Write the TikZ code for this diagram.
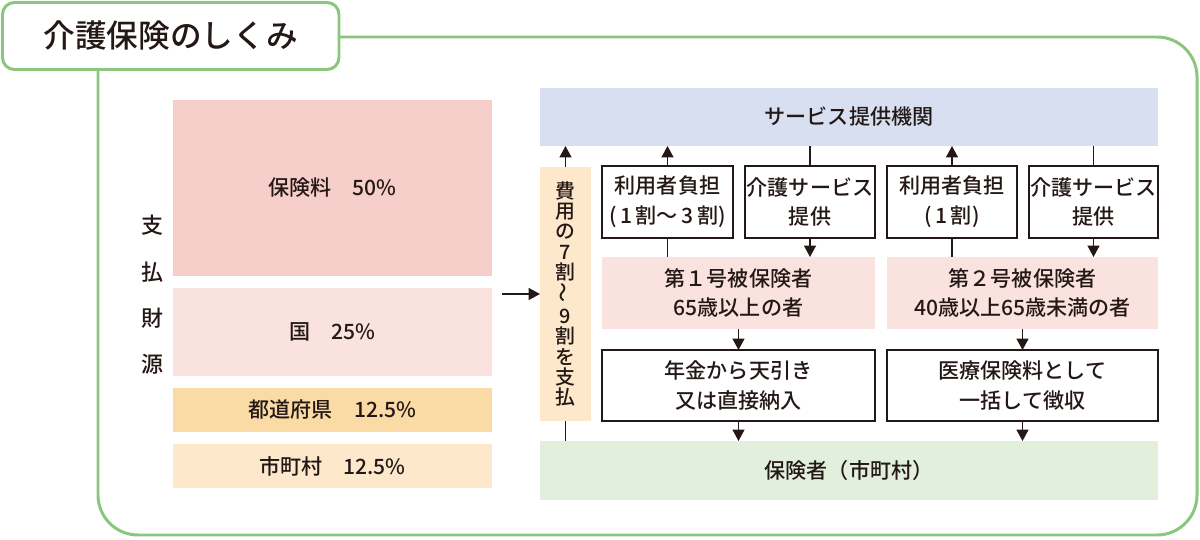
\documentclass[tikz,border=0pt]{standalone}
\usepackage{fontspec}
\setmainfont{Noto Sans CJK JP Medium}
\usetikzlibrary{arrows.meta}
\definecolor{frameg}{HTML}{8AC67E}
\definecolor{ink}{HTML}{231815}
\definecolor{pinkA}{HTML}{F6CFCA}
\definecolor{pinkB}{HTML}{FAE2DE}
\definecolor{orangeA}{HTML}{FADAA5}
\definecolor{creamA}{HTML}{FDE8CC}
\definecolor{blueA}{HTML}{D7DFF1}
\definecolor{greenA}{HTML}{E1EFDC}
\tikzset{
  wh/.style 2 args={minimum width=#1*0.02cm, minimum height=#2*0.02cm},
  base/.style={inner sep=0pt, outer sep=0pt, text=ink, align=center,
    font=\fontsize{12}{17}\selectfont},
  fillbox/.style={base, fill=#1},
  linebox/.style={base, draw=ink, line width=1.1pt, fill=white},
  conn/.style={draw=ink, line width=0.85pt},
  arr/.style={conn, -{Triangle[length=6.5pt,width=6.8pt]}},
}
\begin{document}
\begin{tikzpicture}[x=0.02cm,y=-0.02cm]
\useasboundingbox (0,0) rectangle (1200,540);
% frame
\draw[frameg, line width=1.7pt, rounded corners=0.8cm]
  (339,37) -- (1197,37) -- (1197,535) -- (98,535) -- (98,69);
\node[base, draw=frameg, line width=1.7pt, rounded corners=0.24cm, wh={336.5}{67},
  font=\fontsize{18}{22}\selectfont] (title) at (170.75,36) {介護保険のしくみ};
% left column
\node[base, font=\fontsize{12.5}{26.4}\selectfont] (src) at (152,295) {支\\払\\財\\源};
\node[fillbox=pinkA, wh={319}{176}] (hoken) at (332.5,188) {保険料　50\%};
\node[fillbox=pinkB, wh={319}{88}] (kuni) at (332.5,332) {国　25\%};
\node[fillbox=orangeA, wh={319}{44}] (todo) at (332.5,410) {都道府県　12.5\%};
\node[fillbox=creamA, wh={319}{44}] (shi) at (332.5,466) {市町村　12.5\%};
\coordinate (arrstart) at (502,294);
% right part
\node[fillbox=blueA, wh={618}{58}] (service) at (849,117) {サービス提供機関};
\node[fillbox=creamA, wh={51}{254}, font=\fontsize{11.3}{11.6}\selectfont] (hiyou) at (565.5,294)
  {費\\用\\の\\7\\割\\\rotatebox{90}{～}\\9\\割\\を\\支\\払};
\node[linebox, wh={131}{72}] (riyou1) at (667.5,202) {利用者負担\\(\,1\,割～\,3\,割)};
\node[linebox, wh={130}{72}] (kaigo1) at (810,202) {介護サービス\\提供};
\node[linebox, wh={130}{72}] (riyou2) at (952,202) {利用者負担\\(\,1\,割)};
\node[linebox, wh={129}{72}] (kaigo2) at (1093.5,202) {介護サービス\\提供};
\node[fillbox=pinkB, wh={273}{72}] (hi1) at (738.5,293) {第１号被保険者\\65歳以上の者};
\node[fillbox=pinkB, wh={271}{72}] (hi2) at (1022.5,293) {第２号被保険者\\40歳以上65歳未満の者};
\node[linebox, wh={273}{71}] (nenkin) at (738.5,385.5) {年金から天引き\\又は直接納入};
\node[linebox, wh={271}{71}] (iryou) at (1022.5,385.5) {医療保険料として\\一括して徴収};
\node[fillbox=greenA, wh={618}{59}] (hokensha) at (849,470.5) {保険者（市町村）};
% connectors
\draw[arr] (arrstart) -- (hiyou.west);
\draw[arr] (hiyou.north) -- (hiyou.north |- service.south);
\draw[conn] (hiyou.south) -- (hiyou.south |- hokensha.north);
\draw[arr] (riyou1.north) -- (riyou1.north |- service.south);
\draw[conn] (riyou1.south) -- (riyou1.south |- hi1.north);
\draw[conn] (kaigo1.north |- service.south) -- (kaigo1.north);
\draw[arr] (kaigo1.south) -- (kaigo1.south |- hi1.north);
\draw[arr] (riyou2.north) -- (riyou2.north |- service.south);
\draw[conn] (riyou2.south) -- (riyou2.south |- hi2.north);
\draw[conn] (kaigo2.north |- service.south) -- (kaigo2.north);
\draw[arr] (kaigo2.south) -- (kaigo2.south |- hi2.north);
\draw[arr] (hi1.south) -- (nenkin.north);
\draw[arr] (nenkin.south) -- (nenkin.south |- hokensha.north);
\draw[arr] (hi2.south) -- (iryou.north);
\draw[arr] (iryou.south) -- (iryou.south |- hokensha.north);
\end{tikzpicture}
\end{document}
